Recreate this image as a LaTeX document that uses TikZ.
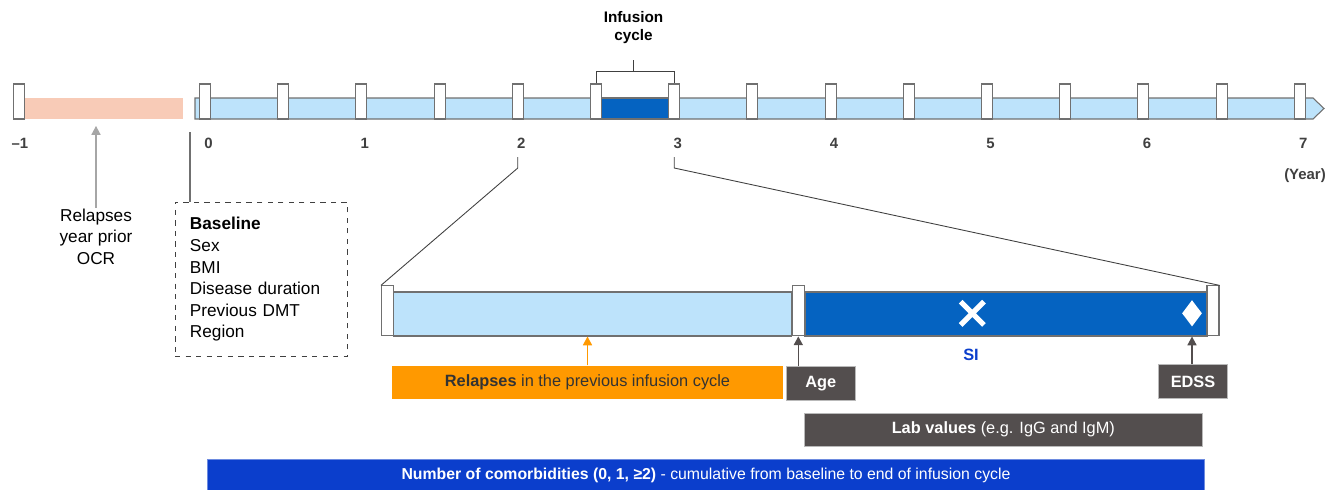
\documentclass[tikz,border=0pt]{standalone}
\usepackage{fontspec}
\setmainfont{Liberation Sans}
\usetikzlibrary{arrows.meta}
\usetikzlibrary{shapes.geometric}
\usetikzlibrary{shapes.misc}

\definecolor{tickgray}{RGB}{112,112,112}
\definecolor{labgray}{RGB}{64,64,64}
\definecolor{lightbar}{RGB}{189,227,251}
\definecolor{darkbar}{RGB}{5,99,193}
\definecolor{pinkbar}{RGB}{248,203,183}
\definecolor{relorange}{RGB}{255,153,0}
\definecolor{boxgray}{RGB}{83,78,78}
\definecolor{combblue}{RGB}{11,62,204}
\definecolor{darktext}{RGB}{51,51,51}

\begin{document}
\begin{tikzpicture}[x=0.02cm,y=-0.02cm,
    tickbox/.style={draw=tickgray,fill=white,line width=0.6pt,inner sep=0pt,minimum width=0.22cm,minimum height=0.7cm},
    bigtick/.style={tickbox,minimum width=0.24cm,minimum height=1.0cm},
    yearlab/.style={font=\fontsize{8.5}{10}\selectfont\bfseries,text=labgray,inner sep=0pt},
    plaintext/.style={font=\fontsize{9.8}{12.3}\selectfont,text=black,inner sep=0pt},
    graybox/.style={draw=gray!55,fill=boxgray,text=white,inner sep=0pt,minimum height=0.67cm,font=\fontsize{9.3}{11}\selectfont},
    pointer/.style={-{Triangle[width=5.2pt,length=5pt]},line width=0.7pt},
    zoomline/.style={draw=labgray,line width=0.5pt}]

    \useasboundingbox (0,0) rectangle (1326,490);

    % year before baseline
    \node (pinkbar) [fill=pinkbar,inner sep=0pt,minimum width=3.17cm,minimum height=0.42cm] at (103.6,108.5) {};
    \node (tm1) [tickbox] at (19,101.5) {};

    % main timeline
    \filldraw[draw=tickgray,fill=lightbar,line width=0.6pt] (195,98) -- (1313,98) -- (1324,108.5) -- (1313,119) -- (195,119) -- cycle;
    \filldraw[draw=tickgray,fill=darkbar,line width=0.6pt] (601.5,98) rectangle (668.7,119);
    \foreach \i in {0,...,14}
        \node (t\i) [tickbox] at ({205+78.2*\i},101.5) {};

    \node (ym1) [yearlab] at (20,143) {\textendash1};
    \foreach \y in {0,...,7}
        \node (y\y) [yearlab] at ({208.5+156.4*\y},143) {\y};
    \node (yr) [yearlab] at (1305,176) {(Year)};

    % infusion cycle bracket
    \node (inf) [yearlab,text=black,align=center,font=\fontsize{8.7}{10.2}\selectfont\bfseries] at (633.5,28) {Infusion\\cycle};
    \draw[zoomline] (t5.north) -- ++(0,-12.3) -| (t6.north);
    \draw[zoomline] (inf.south |- 0,71.7) -- (inf.south |- 0,60);

    % relapses year prior
    \node (relprior) [plaintext,align=center] at (96,236.5) {Relapses\\year prior\\OCR};
    \draw[pointer,line width=0.6pt,draw=gray!70,fill=gray!70] (relprior.north) -- (relprior.north |- 0,126);

    % baseline box
    \node (base) [plaintext,draw=labgray,dashed,line width=0.5pt,align=left,
        text width=3.44cm-17pt,inner xsep=8.5pt,minimum width=3.44cm,minimum height=3.09cm] at (261,279.4)
        {\textbf{Baseline}\\Sex\\BMI\\Disease duration\\Previous DMT\\Region};
    \coordinate (bl) at (190,132);
    \draw[draw=tickgray,line width=0.6pt] (bl) -- (bl |- base.north);

    % zoomed infusion cycle
    \node (prevcyc) [draw=tickgray,fill=lightbar,line width=0.6pt,inner sep=0pt,minimum width=7.96cm,minimum height=0.88cm] at (592.6,314) {};
    \node (curcyc) [draw=tickgray,fill=darkbar,line width=0.6pt,inner sep=0pt,minimum width=8.05cm,minimum height=0.88cm] at (1006.2,314) {};
    \node (lt0) [bigtick] at (387.5,310.9) {};
    \node (lt1) [bigtick] at (798.3,310.9) {};
    \node (lt2) [bigtick] at (1213,310.9) {};

    \draw[zoomline] (t4 |- 0,157) -- (t4 |- 0,168) -- (lt0.north west);
    \draw[zoomline] (t6 |- 0,157) -- (t6 |- 0,168) -- (lt2.north east);

    \node (simark) [cross out,draw=white,line width=3pt,inner sep=0pt,minimum width=0.36cm,minimum height=0.36cm] at (972.3,313.3) {};
    \node (edssmark) [diamond,fill=white,inner sep=0pt,minimum width=0.4cm,minimum height=0.53cm] at (1192,313.3) {};
    \node (si) [font=\fontsize{9.3}{11}\selectfont\bfseries,text=combblue,inner sep=0pt] at (971,355) {SI};

    % covariates
    \node (relcyc) [fill=relorange,text=darktext,inner sep=0pt,minimum width=7.81cm,minimum height=0.67cm,font=\fontsize{9.3}{11}\selectfont] at (587.5,382.5)
        {\textbf{Relapses} in the previous infusion cycle};
    \draw[pointer,draw=relorange,fill=relorange] (relcyc.north) -- (relcyc.north |- prevcyc.south);

    \node (age) [graybox,minimum width=1.38cm] at (820.8,383.3) {\bfseries Age};
    \draw[pointer,draw=boxgray,fill=boxgray] (lt1.south |- age.north) -- (lt1.south);

    \node (edss) [graybox,minimum width=1.37cm] at (1193,381.5) {\bfseries EDSS};
    \draw[pointer,draw=boxgray,fill=boxgray] (edssmark.south |- edss.north) -- (edssmark.south |- curcyc.south);

    \node (lab) [graybox,minimum width=7.95cm] at (1003.3,429.6) {\textbf{Lab values} (e.g. IgG and IgM)};

    \node (comorb) [fill=combblue,draw=combblue!60,text=white,inner sep=0pt,minimum width=19.93cm,minimum height=0.65cm,font=\fontsize{9}{11}\selectfont] at (706,475.5)
        {\textbf{Number of comorbidities (0, 1, ≥2)} - cumulative from baseline to end of infusion cycle};
\end{tikzpicture}
\end{document}
